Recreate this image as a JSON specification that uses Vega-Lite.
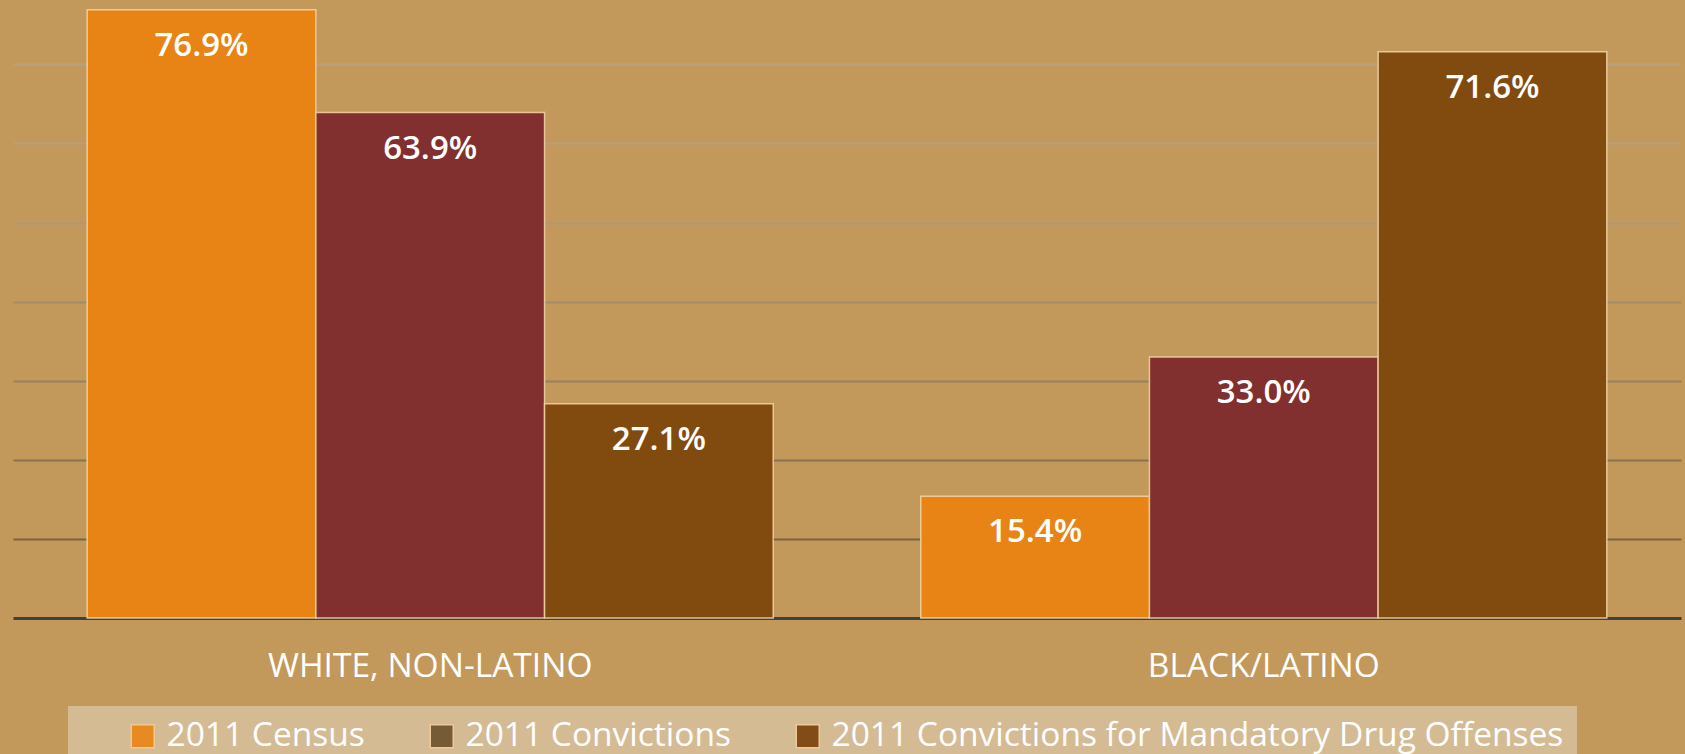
{
  "$schema": "https://vega.github.io/schema/vega-lite/v6.json",
  "width": 1668,
  "height": 618,
  "autosize": {"type": "none"},
  "padding": {"left": 13, "top": 0, "right": 4, "bottom": 136},
  "background": "#c2995b",
  "config": {"view": {"stroke": null}, "font": "Open Sans"},
  "data": {
    "values": [
      {"group": "WHITE, NON-LATINO", "series": "2011 Census", "share": 0.769},
      {"group": "WHITE, NON-LATINO", "series": "2011 Convictions", "share": 0.639},
      {"group": "WHITE, NON-LATINO", "series": "2011 Convictions for Mandatory Drug Offenses", "share": 0.271},
      {"group": "BLACK/LATINO", "series": "2011 Census", "share": 0.154},
      {"group": "BLACK/LATINO", "series": "2011 Convictions", "share": 0.330},
      {"group": "BLACK/LATINO", "series": "2011 Convictions for Mandatory Drug Offenses", "share": 0.716}
    ]
  },
  "encoding": {
    "x": {
      "field": "group",
      "type": "nominal",
      "sort": ["WHITE, NON-LATINO", "BLACK/LATINO"],
      "scale": {"paddingInner": 0.177, "paddingOuter": 0.089},
      "axis": {
        "title": null,
        "domain": true,
        "domainColor": "#404040",
        "domainWidth": 3,
        "ticks": false,
        "grid": false,
        "labelFont": "Open Sans",
        "labelFontSize": 33.5,
        "labelColor": "white",
        "labelPadding": 32,
        "labelAngle": 0,
        "labelLimit": 0
      }
    },
    "xOffset": {
      "field": "series",
      "type": "nominal",
      "sort": ["2011 Census", "2011 Convictions", "2011 Convictions for Mandatory Drug Offenses"],
      "scale": {"paddingInner": 0, "paddingOuter": 0}
    },
    "y": {
      "field": "share",
      "type": "quantitative",
      "scale": {"domain": [0, 0.7813], "nice": false},
      "axis": {
        "title": null,
        "labels": false,
        "ticks": false,
        "domain": false,
        "values": [0.1, 0.2, 0.3, 0.4, 0.5, 0.6, 0.7],
        "gridWidth": 2,
        "gridColor": {
          "condition": [
            {"test": "datum.value > 0.65", "value": "#b8a183"},
            {"test": "datum.value > 0.55", "value": "#b5a080"},
            {"test": "datum.value > 0.45", "value": "#ae9878"},
            {"test": "datum.value > 0.35", "value": "#a38b6b"},
            {"test": "datum.value > 0.25", "value": "#978060"},
            {"test": "datum.value > 0.15", "value": "#8a7250"}
          ],
          "value": "#7a6242"
        }
      }
    }
  },
  "layer": [
    {
      "mark": {"type": "bar", "stroke": "#f3d6a6", "strokeWidth": 1.5, "strokeOpacity": 0.85},
      "encoding": {
        "fill": {
          "field": "series",
          "type": "nominal",
          "sort": "ascending",
          "scale": {"range": ["#e88315", "#822f2f", "#814b10"]},
          "legend": null
        }
      }
    },
    {
      "mark": {"type": "bar"},
      "encoding": {
        "y": {"datum": 0, "type": "quantitative"},
        "y2": {"datum": 0},
        "color": {
          "field": "series",
          "type": "nominal",
          "scale": {
            "domain": ["2011 Census", "2011 Convictions", "2011 Convictions for Mandatory Drug Offenses"],
            "range": ["#e88a22", "#765c36", "#824c16"]
          },
          "legend": {
            "orient": "none",
            "legendX": 55,
            "legendY": 706,
            "direction": "horizontal",
            "title": " ",
            "titleOrient": "left",
            "titleFontSize": 10,
            "titlePadding": 45,
            "fillColor": "#d4bb94",
            "padding": 13,
            "symbolType": "square",
            "symbolSize": 529,
            "symbolStrokeColor": "#efc898",
            "symbolStrokeWidth": 1.5,
            "symbolOpacity": 1,
            "labelFont": "Open Sans",
            "labelFontSize": 33.5,
            "labelColor": "white",
            "labelOffset": 7,
            "columnPadding": 60,
            "labelLimit": 0,
            "encode": {
              "labels": {"dy": {"value": -6}},
              "entries": {
                "width": {
                  "condition": {"test": "datum.value == '2011 Convictions for Mandatory Drug Offenses'", "value": 810},
                  "value": 0
                }
              }
            }
          }
        }
      }
    },
    {
      "mark": {"type": "text", "dy": 46, "baseline": "alphabetic", "font": "Open Sans", "fontSize": 33, "fontWeight": 600, "color": "white"},
      "encoding": {
        "text": {"field": "share", "type": "quantitative", "format": ".1%"}
      }
    }
  ]
}
